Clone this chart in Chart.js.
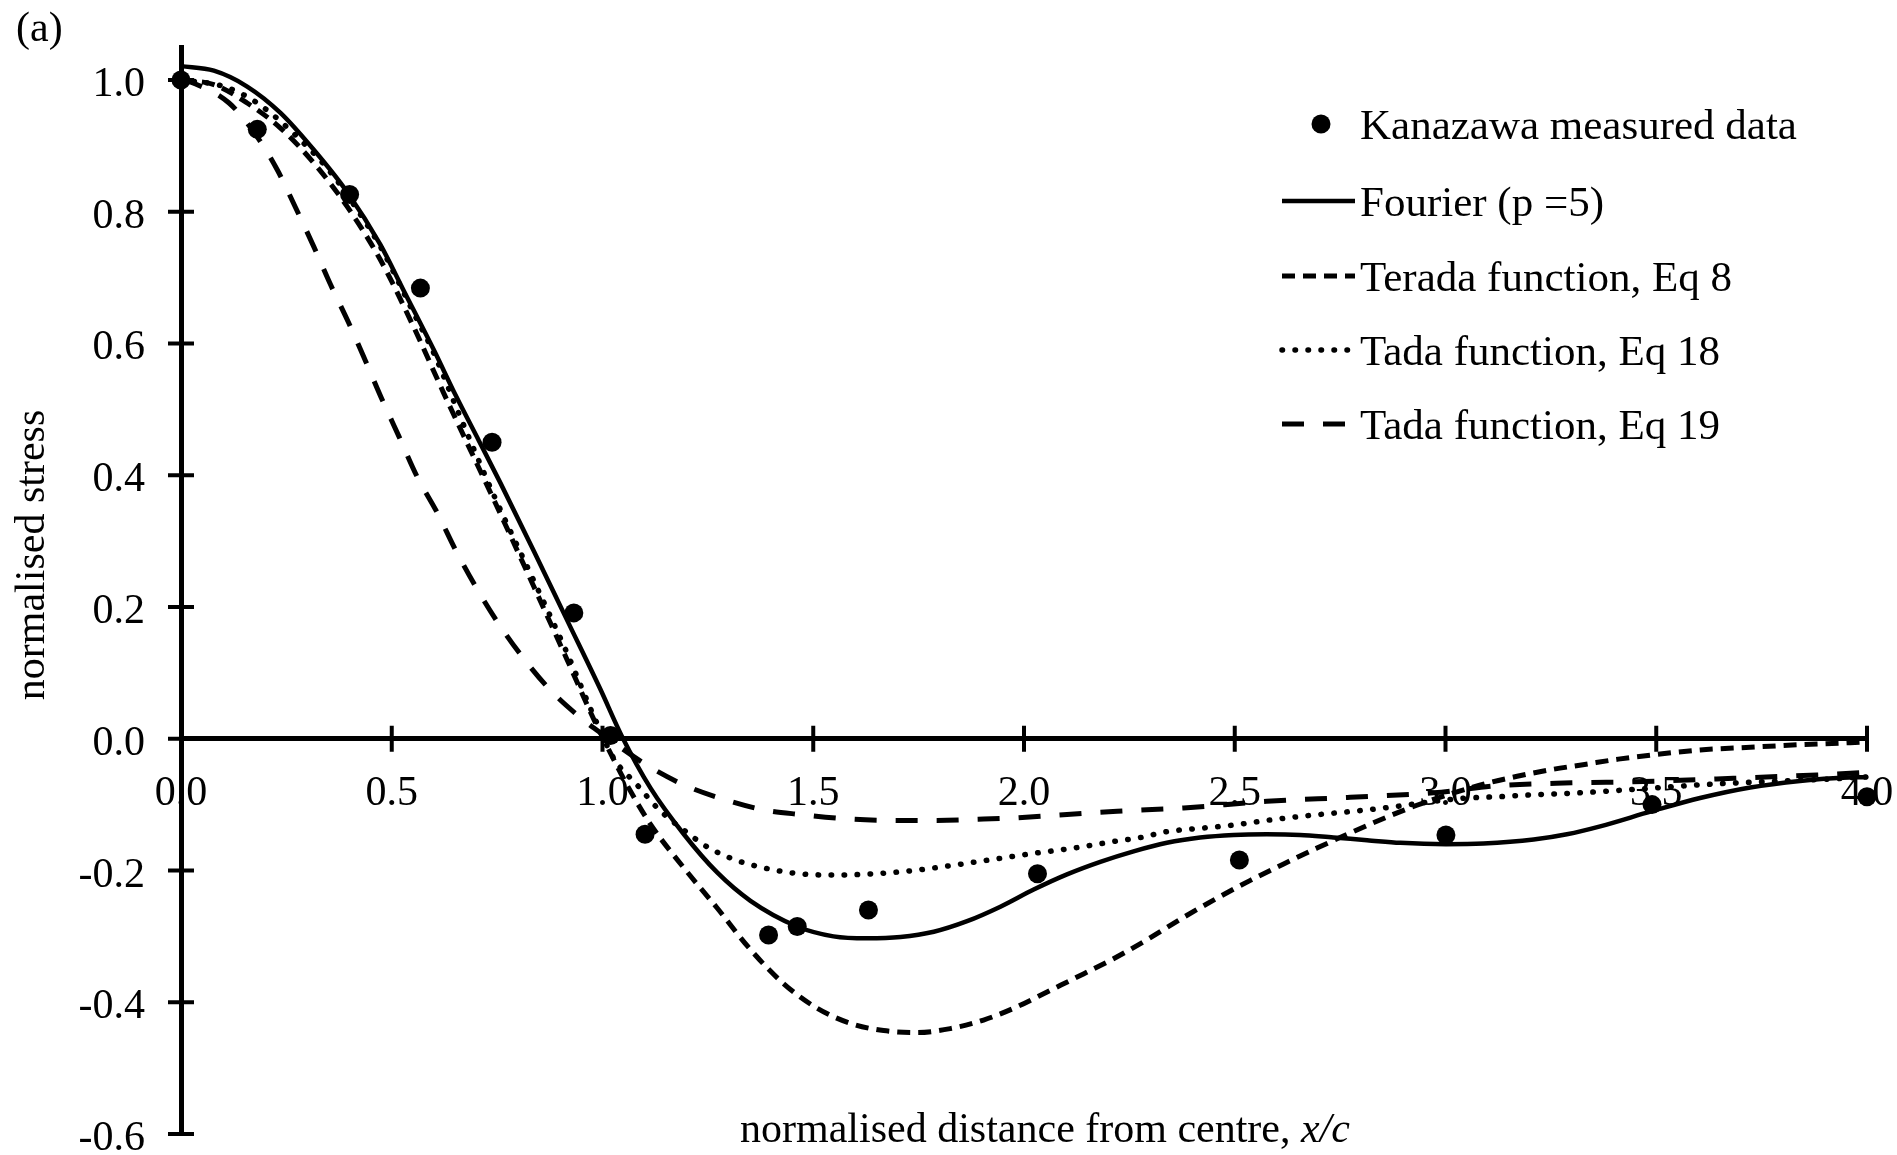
<!DOCTYPE html>
<html>
<head>
<meta charset="utf-8">
<script src="https://cdn.jsdelivr.net/npm/chart.js@4.4.1/dist/chart.umd.min.js"></script>
<style>
  html, body { margin: 0; padding: 0; background: #fff; }
  #wrap { width: 1897px; height: 1155px; position: relative; }
</style>
</head>
<body>
<div id="wrap"><canvas id="chart"></canvas></div>
<script>
// Values (x = x/c, y = normalised stress)
const measuredX = [0, 0.181, 0.400, 0.568, 0.738, 0.932, 1.019, 1.101, 1.394, 1.462, 1.631, 2.032, 2.511, 3.001, 3.490, 4.0];
const measuredY = [1.0, 0.925, 0.826, 0.684, 0.450, 0.191, 0.005, -0.145, -0.298, -0.285, -0.260, -0.205, -0.184, -0.146, -0.100, -0.088];

const fourierX = [0, 0.078, 0.157, 0.236, 0.315, 0.394, 0.473, 0.527, 0.600, 0.651, 0.707, 0.758, 0.837, 0.916, 0.995, 1.045, 1.114, 1.193, 1.272, 1.351, 1.462, 1.548, 1.628, 1.707, 1.786, 1.865, 1.944, 2.023, 2.102, 2.181, 2.260, 2.339, 2.418, 2.497, 2.576, 2.655, 2.734, 2.814, 2.893, 3.001, 3.090, 3.209, 3.288, 3.367, 3.490, 3.604, 3.723, 3.841, 3.920, 4.0];
const fourierY = [1.021, 1.014, 0.990, 0.950, 0.894, 0.830, 0.750, 0.682, 0.590, 0.522, 0.452, 0.388, 0.285, 0.180, 0.075, 0.005, -0.075, -0.145, -0.203, -0.246, -0.285, -0.300, -0.303, -0.301, -0.293, -0.277, -0.255, -0.229, -0.206, -0.187, -0.171, -0.158, -0.150, -0.146, -0.145, -0.146, -0.150, -0.154, -0.158, -0.160, -0.159, -0.153, -0.145, -0.133, -0.110, -0.090, -0.074, -0.064, -0.060, -0.058];

const teradaX = [0, 0.078, 0.157, 0.236, 0.315, 0.394, 0.473, 0.552, 0.623, 0.742, 0.837, 0.916, 0.979, 1.027, 1.058, 1.114, 1.193, 1.272, 1.351, 1.430, 1.509, 1.588, 1.667, 1.746, 1.825, 1.904, 1.983, 2.062, 2.141, 2.221, 2.300, 2.379, 2.458, 2.537, 2.616, 2.695, 2.774, 2.853, 2.932, 3.011, 3.090, 3.170, 3.250, 3.330, 3.410, 3.485, 3.604, 3.723, 3.841, 3.960, 4.0];
const teradaY = [1.0, 0.993, 0.965, 0.927, 0.874, 0.808, 0.727, 0.625, 0.525, 0.363, 0.231, 0.120, 0.030, -0.032, -0.070, -0.130, -0.196, -0.257, -0.320, -0.372, -0.409, -0.432, -0.443, -0.446, -0.440, -0.427, -0.407, -0.382, -0.357, -0.331, -0.302, -0.271, -0.242, -0.215, -0.190, -0.166, -0.143, -0.121, -0.101, -0.084, -0.069, -0.057, -0.047, -0.039, -0.031, -0.025, -0.017, -0.013, -0.009, -0.006, -0.0045];

const tada18X = [0, 0.102, 0.181, 0.299, 0.362, 0.418, 0.473, 0.513, 0.552, 0.600, 0.655, 0.742, 0.837, 0.916, 0.979, 1.027, 1.082, 1.130, 1.165, 1.200, 1.240, 1.303, 1.363, 1.454, 1.548, 1.643, 1.738, 1.833, 1.928, 2.023, 2.118, 2.213, 2.276, 2.339, 2.418, 2.497, 2.576, 2.655, 2.734, 2.814, 2.893, 2.972, 3.051, 3.130, 3.209, 3.288, 3.446, 3.604, 3.762, 3.920, 4.0];
const tada18Y = [1.0, 0.990, 0.965, 0.899, 0.854, 0.803, 0.747, 0.697, 0.646, 0.585, 0.500, 0.370, 0.240, 0.130, 0.035, -0.030, -0.070, -0.105, -0.125, -0.142, -0.161, -0.181, -0.193, -0.204, -0.207, -0.205, -0.200, -0.192, -0.183, -0.174, -0.166, -0.156, -0.150, -0.141, -0.136, -0.131, -0.124, -0.118, -0.113, -0.108, -0.102, -0.095, -0.090, -0.088, -0.085, -0.083, -0.077, -0.070, -0.065, -0.061, -0.058];

const tada19X = [0, 0.030, 0.114, 0.177, 0.228, 0.272, 0.315, 0.355, 0.398, 0.438, 0.477, 0.517, 0.560, 0.608, 0.651, 0.699, 0.750, 0.809, 0.876, 0.944, 0.995, 1.110, 1.200, 1.288, 1.382, 1.469, 1.588, 1.707, 1.786, 1.904, 1.983, 2.102, 2.221, 2.379, 2.576, 2.774, 2.972, 3.130, 3.300, 3.470, 3.683, 3.881, 4.0];
const tada19Y = [1.0, 0.995, 0.965, 0.917, 0.864, 0.806, 0.747, 0.689, 0.631, 0.573, 0.515, 0.459, 0.398, 0.343, 0.287, 0.231, 0.178, 0.125, 0.074, 0.034, 0.009, -0.042, -0.072, -0.092, -0.108, -0.115, -0.122, -0.124, -0.124, -0.122, -0.120, -0.115, -0.110, -0.105, -0.095, -0.089, -0.082, -0.071, -0.067, -0.065, -0.060, -0.055, -0.051];

const FONT = '"Liberation Serif", "Times New Roman", serif';

function toPoints(xs, ys) {
    return xs.map((x, i) => ({ x: x, y: ys[i] }));
}

function curve(label, xs, ys, width, dash, cap) {
    return {
        label: label,
        data: toPoints(xs, ys),
        borderColor: '#000',
        borderWidth: width,
        borderDash: dash,
        borderCapStyle: cap || 'butt',
        pointRadius: 0,
        fill: false,
        cubicInterpolationMode: 'monotone',
        clip: false
    };
}

// stop the scales from pushing the plot area in for their end labels
function noPadding(s) {
    s.paddingLeft = 0;
    s.paddingRight = 0;
    s.paddingTop = 0;
    s.paddingBottom = 0;
}

// tick marks that cross the axes, axis titles, panel letter and legend
const decorPlugin = {
    id: 'decor',
    beforeDatasetsDraw(chart) {
        const ctx = chart.ctx;
        const xs = chart.scales.x, ys = chart.scales.y;
        const x0 = xs.getPixelForValue(0);
        const y0 = ys.getPixelForValue(0);
        ctx.save();
        ctx.strokeStyle = '#000';
        ctx.lineWidth = 4;
        ctx.beginPath();
        xs.ticks.forEach(t => {
            if (t.value === 0) return;
            const px = xs.getPixelForValue(t.value);
            ctx.moveTo(px, y0 - 13);
            ctx.lineTo(px, y0 + 13);
        });
        ys.ticks.forEach(t => {
            const py = ys.getPixelForValue(t.value);
            ctx.moveTo(x0 - 13, py);
            ctx.lineTo(x0 + 13, py);
        });
        ctx.stroke();
        ctx.restore();
    },
    afterDraw(chart) {
        const ctx = chart.ctx;
        ctx.save();
        ctx.fillStyle = '#000';
        ctx.font = '42px ' + FONT;
        ctx.textBaseline = 'alphabetic';

        ctx.textAlign = 'left';
        ctx.fillText('(a)', 16, 41);

        // y title
        ctx.save();
        ctx.translate(44, 555);
        ctx.rotate(-Math.PI / 2);
        ctx.textAlign = 'center';
        ctx.fillText('normalised stress', 0, 0);
        ctx.restore();

        // x title, with italic x/c
        const part1 = 'normalised distance from centre, ';
        const part2 = 'x/c';
        ctx.font = '42px ' + FONT;
        const w1 = ctx.measureText(part1).width;
        ctx.font = 'italic 42px ' + FONT;
        const w2 = ctx.measureText(part2).width;
        const sx = 1045 - (w1 + w2) / 2;
        ctx.textAlign = 'left';
        ctx.font = '42px ' + FONT;
        ctx.fillText(part1, sx, 1142);
        ctx.font = 'italic 42px ' + FONT;
        ctx.fillText(part2, sx + w1, 1142);

        // legend
        const rows = [124, 201, 276, 350, 424];
        ctx.font = '43px ' + FONT;
        chart.data.datasets.forEach((ds, i) => {
            const y = rows[i];
            if (ds.showLine === false) {
                ctx.beginPath();
                ctx.arc(1321, y, ds.pointRadius, 0, Math.PI * 2);
                ctx.fill();
            } else {
                ctx.save();
                ctx.strokeStyle = ds.borderColor;
                ctx.lineWidth = ds.borderWidth;
                ctx.lineCap = ds.borderCapStyle;
                ctx.setLineDash(ds.borderDash || []);
                ctx.beginPath();
                ctx.moveTo(1282, y);
                ctx.lineTo(1355, y);
                ctx.stroke();
                ctx.restore();
            }
            ctx.fillText(ds.label, 1360, y + 15);
        });
        ctx.restore();
    }
};

new Chart(document.getElementById('chart'), {
    type: 'line',
    data: {
        datasets: [
            {
                label: 'Kanazawa measured data',
                data: toPoints(measuredX, measuredY),
                showLine: false,
                pointRadius: 9.5,
                pointBackgroundColor: '#000',
                pointBorderWidth: 0,
                borderColor: '#000',
                clip: false
            },
            curve('Fourier (p =5)', fourierX, fourierY, 4.5, [], 'butt'),
            curve('Terada function, Eq 8', teradaX, teradaY, 5, [13, 8], 'butt'),
            curve('Tada function, Eq 18', tada18X, tada18Y, 5.5, [0.5, 12.5], 'round'),
            curve('Tada function, Eq 19', tada19X, tada19Y, 5, [22, 19], 'butt')
        ]
    },
    options: {
        responsive: true,
        maintainAspectRatio: false,
        animation: false,
        layout: { padding: { left: 0, right: 30, top: 47, bottom: 21 } },
        plugins: { legend: { display: false }, tooltip: { enabled: false } },
        scales: {
            x: {
                type: 'linear',
                position: { y: 0 },
                min: 0,
                max: 4,
                afterFit: noPadding,
                grid: { display: false, drawTicks: false },
                border: { display: true, color: '#000', width: 5 },
                ticks: {
                    stepSize: 0.5,
                    padding: 34,
                    color: '#000',
                    maxRotation: 0,
                    autoSkip: false,
                    font: { family: FONT, size: 42, lineHeight: 1 },
                    callback: v => v.toFixed(1)
                }
            },
            y: {
                type: 'linear',
                bounds: 'data',
                min: -0.6,
                max: 1.05,
                afterFit: s => { noPadding(s); s.width = 181; },
                grid: { display: false, drawTicks: false },
                border: { display: true, color: '#000', width: 5 },
                ticks: {
                    stepSize: 0.2,
                    includeBounds: false,
                    padding: 36,
                    labelOffset: 5,
                    color: '#000',
                    autoSkip: false,
                    font: { family: FONT, size: 42, lineHeight: 1 },
                    callback: v => v.toFixed(1)
                }
            }
        }
    },
    plugins: [decorPlugin]
});
</script>
</body>
</html>
